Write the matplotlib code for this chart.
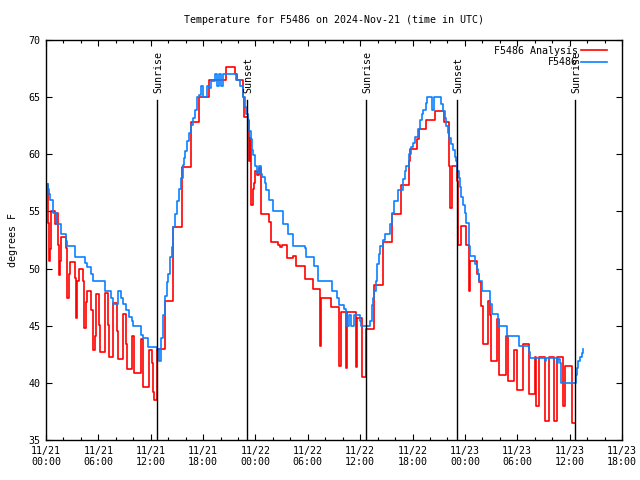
import numpy as np
import matplotlib
import matplotlib.pyplot as plt

matplotlib.use('Agg')

# hours since 2024-11-21 00:00 UTC
red_h = [0.0, 0.23, 0.31, 0.46, 0.53, 1.07, 1.22, 1.38, 1.45, 1.6, 1.76, 2.29, 2.37, 2.44, 2.6,
         2.75, 3.36, 3.44, 3.59, 3.74, 4.27, 4.35, 4.58, 4.66, 5.19, 5.34, 5.57, 5.73, 6.11,
         6.18, 6.72, 7.1, 7.18, 7.63, 8.17, 8.24, 8.78, 9.16, 9.24, 9.85, 10.08, 10.84, 11.07,
         11.83, 12.14, 12.29, 12.37, 12.67, 13.59, 14.58, 15.57, 16.64, 17.56, 18.7, 20.61,
         21.6, 21.83, 22.52, 22.68, 23.1, 23.29, 23.37, 23.52, 23.67, 23.83, 23.98, 24.13,
         24.44, 24.66, 25.58, 25.73, 25.81, 26.6, 26.85, 27.03, 27.56, 28.25, 28.63, 29.7,
         30.62, 31.45, 31.53, 32.6, 33.6, 33.75, 34.33, 34.47, 35.5, 35.65, 36.25, 36.65,
         37.56, 38.6, 39.6, 40.7, 41.6, 41.7, 42.5, 42.7, 43.55, 44.6, 45.55, 46.2, 46.25,
         46.55, 47.04, 47.2, 47.6, 48.1, 48.42, 48.49, 48.57, 49.33, 49.56, 49.8, 50.1, 50.63,
         50.86, 51.01, 51.62, 51.85, 52.69, 52.92, 53.6, 53.99, 54.6, 55.3, 56.0, 56.2, 56.52,
         57.2, 57.58, 58.23, 58.5, 59.2, 59.5, 60.3, 60.6]
red_t = [57.4, 54.0, 50.7, 51.7, 55.0, 53.9, 54.9, 52.1, 49.4, 50.7, 52.8, 51.8, 50.1, 47.4, 49.5,
         50.6, 49.2, 45.7, 48.9, 50.0, 48.9, 44.8, 47.1, 48.0, 46.4, 42.9, 44.1, 47.8, 45.1,
         42.7, 47.9, 45.1, 42.3, 47.0, 44.5, 42.1, 46.0, 43.4, 41.2, 44.1, 40.9, 43.8, 39.6,
         42.9, 41.7, 39.2, 38.5, 43.0, 47.2, 53.6, 58.9, 62.8, 65.0, 66.5, 67.6,
         67.0, 66.5, 65.0, 63.3, 63.0, 59.4, 61.4, 55.6, 57.0, 57.5, 58.5, 58.2,
         58.8, 54.8, 54.1, 52.9, 52.3, 52.1, 51.9, 52.1, 50.9, 51.1, 50.2, 49.1,
         48.2, 43.2, 47.4, 46.6, 41.5, 46.2, 41.3, 46.2, 41.4, 45.7, 40.5, 44.7,
         48.6, 52.3, 54.8, 57.3, 59.4, 60.5, 61.3, 62.2, 63.0, 63.8, 62.8, 59.0, 55.3,
         59.0, 57.7, 52.1, 53.7, 52.1, 50.7, 48.0, 50.7, 49.5, 48.8, 46.7, 43.4, 47.2,
         45.9, 41.9, 45.6, 40.7, 44.1, 40.2, 42.9, 39.4, 43.4, 39.0, 42.3, 38.0, 42.3,
         36.7, 42.3, 36.7, 42.3, 38.0, 41.5, 36.5, 36.5]

blue_h = [0.0, 0.23, 0.3, 0.5, 0.8, 0.84, 1.3, 1.76, 2.29, 2.44, 3.36, 4.5, 4.73, 5.1, 5.34, 6.8,
          7.4, 7.63, 8.24, 8.55, 8.78, 9.16, 9.47, 9.85, 9.92, 10.84, 11.07, 11.68, 12.75, 12.98,
          13.13, 13.36, 13.59, 13.82, 13.97, 14.2, 14.43, 14.58, 14.81, 15.04, 15.27, 15.42,
          15.65, 15.8, 15.95, 16.18, 16.41, 16.56, 16.79, 17.02, 17.25, 17.48, 17.71, 17.94,
          18.47, 18.7, 18.86, 19.39, 19.62, 19.85, 20.0, 20.23, 21.75, 22.2, 22.53, 22.76,
          22.96, 23.14, 23.29, 23.44, 23.59, 23.75, 23.98, 24.13, 24.35, 24.59, 24.74, 25.04,
          25.2, 25.5, 26.04, 27.11, 27.18, 27.72, 28.33, 29.63, 29.78, 30.69, 31.16, 32.76,
          33.29, 33.52, 34.2, 34.36, 34.51, 34.74, 34.97, 35.27, 35.96, 36.11, 37.11, 37.34,
          37.49, 37.64, 37.79, 37.87, 38.1, 38.25, 38.63, 38.79, 39.47, 39.63, 39.86, 40.31,
          40.85, 41.08, 41.23, 41.61, 41.84, 42.07, 42.3, 42.6, 42.83, 43.06, 43.21, 43.52,
          43.67, 44.2, 44.5, 45.29, 45.52, 45.67, 45.82, 46.05, 46.2, 46.36, 46.66, 46.81,
          46.97, 47.12, 47.27, 47.43, 47.58, 47.73, 47.96, 48.11, 48.42, 48.57, 49.18, 49.33,
          49.49, 49.64, 49.94, 50.86, 51.09, 51.78, 52.85, 54.15, 55.29, 55.44, 57.12, 57.27,
          58.5, 58.65, 58.9, 59.0, 60.63, 60.71, 60.86, 61.01, 61.24, 61.4, 61.55]
blue_t = [57.4, 57.0, 56.5, 56.0, 55.5, 54.9, 53.9, 53.0, 52.4, 52.0, 51.0, 50.5, 50.1, 49.5, 48.9, 48.0,
          47.4, 46.9, 48.0, 47.4, 46.9, 46.4, 45.8, 45.4, 45.0, 44.2, 43.9, 43.1, 43.0, 41.9,
          43.9, 45.9, 47.6, 48.8, 49.5, 51.0, 51.9, 53.6, 54.8, 55.9, 57.0, 57.9,
          59.1, 59.7, 60.3, 61.2, 61.9, 62.6, 63.2, 63.9, 65.0, 65.2, 66.0, 65.0,
          66.0, 65.8, 66.4, 67.0, 66.0, 67.0, 66.0, 67.0, 66.5, 66.0, 65.0, 64.1,
          63.5, 62.8, 62.0, 61.3, 60.4, 59.9, 59.0, 58.4, 59.0, 58.3, 58.0, 57.5,
          56.9, 56.0, 55.0, 54.4, 53.9, 53.0, 52.0, 51.8, 51.0, 50.2, 48.9, 48.0,
          47.4, 46.8, 46.5, 46.0, 45.0, 45.9, 45.0, 45.9, 45.4, 45.0, 45.4, 46.8,
          47.4, 48.0, 48.9, 50.4, 51.3, 52.0, 52.5, 53.0, 53.9, 54.9, 55.9, 56.9,
          57.8, 58.5, 59.0, 60.0, 60.6, 61.0, 61.5, 62.2, 63.0, 63.5, 63.9, 64.5,
          65.0, 63.9, 65.0, 64.4, 63.8, 63.2, 62.5, 61.9, 61.4, 60.9, 60.4, 59.8,
          59.4, 58.5, 57.9, 57.1, 56.3, 55.6, 54.9, 54.0, 52.0, 51.1, 50.4, 50.0,
          49.5, 48.9, 48.0, 46.9, 46.0, 45.0, 44.1, 43.2, 42.7, 42.2, 41.9, 42.2,
          41.7, 42.1, 41.7, 40.0, 40.0, 40.7, 41.3, 41.9, 42.3, 42.6, 43.0]

sun_h = [12.68, 22.99, 36.7, 47.05, 60.62]
sun_lbl = ['Sunrise', 'Sunset', 'Sunrise', 'Sunset', 'Sunrise']

xtick_h = list(range(0, 67, 6))
xtick_lbl = ['11/21\n00:00', '11/21\n06:00', '11/21\n12:00', '11/21\n18:00',
             '11/22\n00:00', '11/22\n06:00', '11/22\n12:00', '11/22\n18:00',
             '11/23\n00:00', '11/23\n06:00', '11/23\n12:00', '11/23\n18:00']

plt.rcParams['font.family'] = 'DejaVu Sans Mono'
plt.rcParams['font.size'] = 7.2

fig = plt.figure(figsize=(6.4, 4.8), dpi=100)
ax = fig.add_axes([46 / 640, 40 / 480, 576 / 640, 400 / 480])

ax.step(red_h, red_t, where='post', color='#ff0000', lw=1.2, label='F5486 Analysis')
ax.step(blue_h, blue_t, where='post', color='#0a80ff', lw=1.2, label='F5486')

for h, s in zip(sun_h, sun_lbl):
    ax.plot([h, h], [35, 64.75], color='black', lw=1.0)
    ax.text(h + 0.17, 65.4, s, rotation=90, ha='center', va='bottom')

ax.set_xlim(0, 66)
ax.set_ylim(35, 70)
ax.set_xticks(xtick_h)
ax.set_xticklabels(xtick_lbl)
ax.set_xticks(np.arange(0, 67, 2), minor=True)
ax.set_yticks(np.arange(35, 71, 5))
ax.tick_params(which='both', direction='in', top=True, right=True, width=0.8)
ax.tick_params(which='major', length=4.5)
ax.tick_params(which='minor', length=2.5)
ax.tick_params(axis='x', pad=4)
ax.tick_params(axis='y', pad=4)
for sp in ax.spines.values():
    sp.set_linewidth(1.0)

ax.set_ylabel('degrees F')
ax.yaxis.set_label_coords(-28 / 576, 0.5)
fig.text(334 / 640, 1 - 20 / 480, 'Temperature for F5486 on 2024-Nov-21 (time in UTC)',
         ha='center', va='center')

ax.legend(loc='upper right', bbox_to_anchor=(0.985, 1.0), frameon=False, markerfirst=False,
          handlelength=2.6, handletextpad=0.3, labelspacing=0.15, borderaxespad=0.2)

fig.savefig('out.png', dpi=100)
